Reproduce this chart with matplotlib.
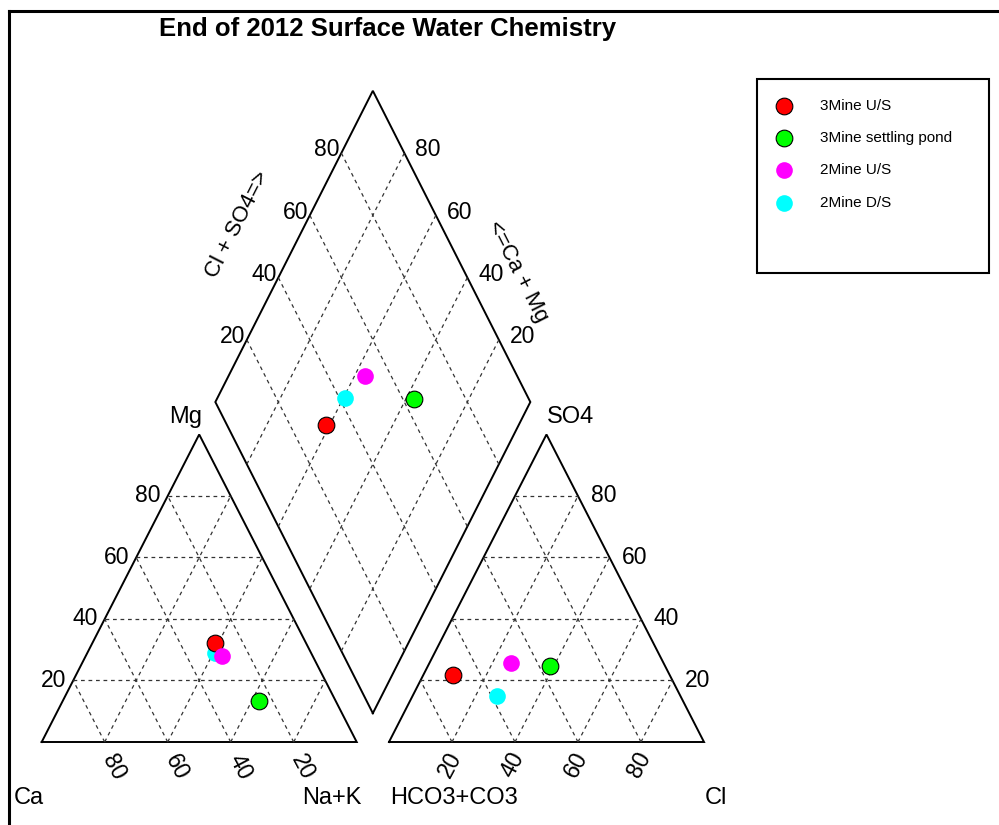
import numpy as np
import matplotlib
matplotlib.use("Agg")
import matplotlib.pyplot as plt
from matplotlib.patches import Rectangle
from matplotlib.lines import Line2D

plt.rcParams['font.family'] = ['Liberation Sans', 'DejaVu Sans']

# samples (percent of meq)
samples = ["3Mine U/S", "3Mine settling pond", "2Mine U/S", "2Mine D/S"]
colors = ["#ff0000", "#00ff00", "#ff00ff", "#00ffff"]
edges = ["#000000", "#000000", "none", "none"]

ca = [28.9, 24.3, 28.9, 30.5]
mg = [32.3, 13.2, 27.9, 29.0]
na_k = [38.8, 62.5, 43.2, 40.5]
hco3 = [68.6, 36.6, 48.4, 58.3]
cl = [9.5, 38.8, 25.8, 26.7]
so4 = [21.9, 24.6, 25.8, 15.0]

ticks = [20, 40, 60, 80]
draw_order = [3, 0, 1, 2]

H = np.sqrt(3) / 2 * 100
GAP = 10.25
OFF = 100 + GAP
HD = H * 1.012               # diamond is drawn a touch taller than the triangles
B = np.array([100 + GAP / 2, 8.1])


def cation_xy(na, m):
    return na + m / 2, m * H / 100


def anion_xy(c, s):
    return OFF + c + s / 2, s * H / 100


def diamond_xy(a, c):
    # a = Cl+SO4, c = Ca+Mg
    p = B + a / 100 * np.array([50, HD]) + c / 100 * np.array([-50, HD])
    return p[0], p[1]


fig = plt.figure(figsize=(9.99, 8.25), dpi=100)
ax = fig.add_axes([0, 0, 1, 1])
px_x, px_y = 3.15, 3.551
ax.set_xlim(-41.7 / px_x, (999 - 41.7) / px_x)
ax.set_ylim(-83 / px_y, (825 - 83) / px_y)
ax.axis('off')

solid = dict(color='black', lw=1.4, solid_joinstyle='miter')
dash = dict(color='#333333', lw=0.9, ls=(0, (3, 3)))

# outlines
ax.plot([0, 100, 50, 0], [0, 0, H, 0], **solid)
ax.plot([OFF, OFF + 100, OFF + 50, OFF], [0, 0, H, 0], **solid)
dx, dy = zip(*[diamond_xy(0, 0), diamond_xy(100, 0), diamond_xy(100, 100),
               diamond_xy(0, 100), diamond_xy(0, 0)])
ax.plot(dx, dy, **solid)

# grids
for v in ticks:
    for o in (0, OFF):
        y = v * H / 100
        ax.plot([o + v / 2, o + 100 - v / 2], [y, y], **dash)
        ax.plot([o + v, o + v + (100 - v) / 2], [0, (100 - v) * H / 100], **dash)
        ax.plot([o + v, o + v / 2], [0, v * H / 100], **dash)
    x1, y1 = diamond_xy(v, 0)
    x2, y2 = diamond_xy(v, 100)
    ax.plot([x1, x2], [y1, y2], **dash)
    x1, y1 = diamond_xy(0, v)
    x2, y2 = diamond_xy(100, v)
    ax.plot([x1, x2], [y1, y2], **dash)

# tick labels
fs = 16.5
for v in ticks:
    # cation triangle
    ax.text(v / 2 - 2.2, v * H / 100, str(v), ha='right', va='center', fontsize=fs)
    ax.text(v + 2.9, -7.0, str(100 - v), ha='center', va='center', fontsize=fs,
            rotation=-62)
    # anion triangle
    ax.text(OFF + 100 - v / 2 + 4.0, v * H / 100, str(v), ha='left', va='center',
            fontsize=fs)
    ax.text(OFF + v - 0.6, -6.5, str(v), ha='center', va='center', fontsize=fs,
            rotation=62)
    # diamond
    x, y = diamond_xy(v, 100)
    ax.text(x - 0.6, y + 0.9, str(v), ha='right', va='center', fontsize=fs)
    x, y = diamond_xy(100, v)
    ax.text(x + 3.4, y + 0.9, str(v), ha='left', va='center', fontsize=fs)

ax.text(62.2, 145.6, "Cl + SO4=>", rotation=63, ha='center', va='center', fontsize=16)
ax.text(151.0, 132.5, "<=Ca + Mg", rotation=-63, ha='center', va='center', fontsize=16)

cfs = 17
ax.text(50.8, 91.5, "Mg", ha='right', va='center', fontsize=cfs)
ax.text(OFF + 50.0, 91.5, "SO4", ha='left', va='center', fontsize=cfs)
ax.text(-9.0, -15.8, "Ca", ha='left', va='center', fontsize=cfs)
ax.text(101.6, -15.8, "Na+K", ha='right', va='center', fontsize=cfs)
ax.text(OFF + 0.3, -15.8, "HCO3+CO3", ha='left', va='center', fontsize=cfs)
ax.text(OFF + 100.3, -15.8, "Cl", ha='left', va='center', fontsize=cfs)

# samples
for i in draw_order:
    pts = [cation_xy(na_k[i], mg[i]), anion_xy(cl[i], so4[i]),
           diamond_xy(cl[i] + so4[i], ca[i] + mg[i])]
    for x, y in pts:
        ax.plot(x, y, 'o', ms=12, mfc=colors[i], mec=edges[i], mew=0.8, zorder=5)

fig.text(388 / 999, 1 - 36 / 825, "End of 2012 Surface Water Chemistry",
         ha='center', va='baseline', fontsize=18.5, fontweight='bold')

# frame lines
fig.add_artist(Line2D([9 / 999, 9 / 999], [0, 1 - 11 / 825], color='black', lw=2.2,
                      transform=fig.transFigure))
fig.add_artist(Line2D([9 / 999, 1], [1 - 11 / 825, 1 - 11 / 825], color='black', lw=2.2,
                      transform=fig.transFigure))

# legend box
fig.add_artist(Rectangle((757 / 999, 1 - 273 / 825), 232 / 999, 194 / 825,
                         fill=False, ec='black', lw=1.5, transform=fig.transFigure))
for i, name in enumerate(samples):
    yy = 1 - (105.7 + 32.3 * i) / 825
    fig.add_artist(Line2D([784 / 999], [yy], marker='o', ms=12, mfc=colors[i],
                          mec=edges[i], mew=0.8, ls='none', transform=fig.transFigure))
    fig.text(820 / 999, yy, name, ha='left', va='center', fontsize=11)

fig.savefig("out.png", dpi=100)
